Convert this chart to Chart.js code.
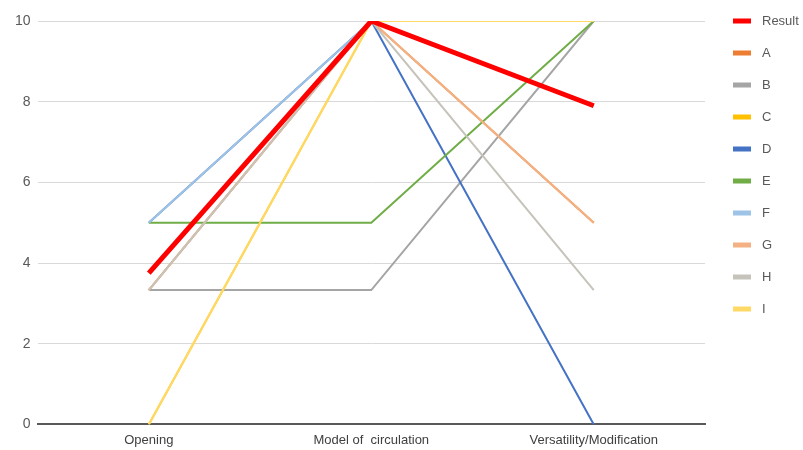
<!DOCTYPE html>
<html>
<head>
<meta charset="utf-8">
<script src="https://cdn.jsdelivr.net/npm/chart.js@4.4.1/dist/chart.umd.min.js"></script>
<style>
  html, body { margin: 0; padding: 0; background: #fff; }
  #wrap { width: 803px; height: 450px; position: relative; }
</style>
</head>
<body>
<div id="wrap"><canvas id="myChart"></canvas></div>
<script>
        // Categories and series
        const categories = ['Opening', 'Model of  circulation', 'Versatility/Modification'];
        const yTicks = [0, 2, 4, 6, 8, 10];

        const resultValues = [3.75, 10, 7.9];
        const aValues = [3.33, 10, 5];
        const bValues = [3.33, 3.33, 10];
        const cValues = [0, 10, 10];
        const dValues = [5, 10, 0];
        const eValues = [5, 5, 10];
        const fValues = [5, 10, 10];
        const gValues = [3.33, 10, 5];
        const hValues = [3.33, 10, 3.33];
        const iValues = [0, 10, 10];

        const seriesNames = ['Result', 'A', 'B', 'C', 'D', 'E', 'F', 'G', 'H', 'I'];
        const seriesValues = [resultValues, aValues, bValues, cValues, dValues, eValues, fValues, gValues, hValues, iValues];
        const seriesColors = ['#ff0000', '#ed7d31', '#a5a5a5', '#ffc000', '#4472c4', '#70ad47', '#9dc3e6', '#f4b183', '#c6c3bb', '#ffd966'];

        // Excel draws later series on top, Result sits above everything
        let datasets = seriesNames.map((name, i) => ({
            label: name,
            data: seriesValues[i],
            borderColor: seriesColors[i],
            backgroundColor: seriesColors[i],
            borderWidth: i === 0 ? 5 : 2,
            pointRadius: 0,
            pointHoverRadius: 0,
            tension: 0,
            order: i === 0 ? 0 : 11 - i
        }));

        // simple legend drawn at the right, in series order
        const sideLegend = {
            id: 'sideLegend',
            afterDraw(chart) {
                const c = chart.ctx;
                c.save();
                c.font = '13px "Liberation Sans", Arial, sans-serif';
                c.textBaseline = 'middle';
                seriesNames.forEach((name, i) => {
                    let y = 21 + i * 32;
                    c.fillStyle = seriesColors[i];
                    c.fillRect(733, y - 2.5, 18, 5);
                    c.fillStyle = '#595959';
                    c.fillText(name, 762, y);
                });
                c.restore();
            }
        };

        let ctx = document.getElementById('myChart').getContext('2d');
        let chart = new Chart(ctx, {
            type: 'line',
            data: {
                labels: categories,
                datasets: datasets
            },
            options: {
                responsive: true,
                maintainAspectRatio: false,
                animation: false,
                layout: {
                    padding: { left: 8, right: 98, top: 21, bottom: -6 }
                },
                plugins: {
                    legend: { display: false },
                    tooltip: { enabled: false }
                },
                scales: {
                    y: {
                        min: 0,
                        max: 10,
                        afterBuildTicks: axis => {
                            axis.ticks = yTicks.map(v => ({ value: v }));
                        },
                        ticks: {
                            color: '#595959',
                            padding: 7,
                            font: { family: '"Liberation Sans", Arial, sans-serif', size: 14 }
                        },
                        grid: {
                            color: '#d9d9d9',
                            drawTicks: false
                        },
                        border: { display: false }
                    },
                    x: {
                        offset: true,
                        ticks: {
                            color: '#404040',
                            padding: 8,
                            maxRotation: 0,
                            font: { family: '"Liberation Sans", Arial, sans-serif', size: 13 }
                        },
                        grid: {
                            display: false,
                            drawTicks: false
                        },
                        border: {
                            display: true,
                            color: '#595959',
                            width: 2
                        }
                    }
                }
            },
            plugins: [sideLegend]
        });
</script>
</body>
</html>
